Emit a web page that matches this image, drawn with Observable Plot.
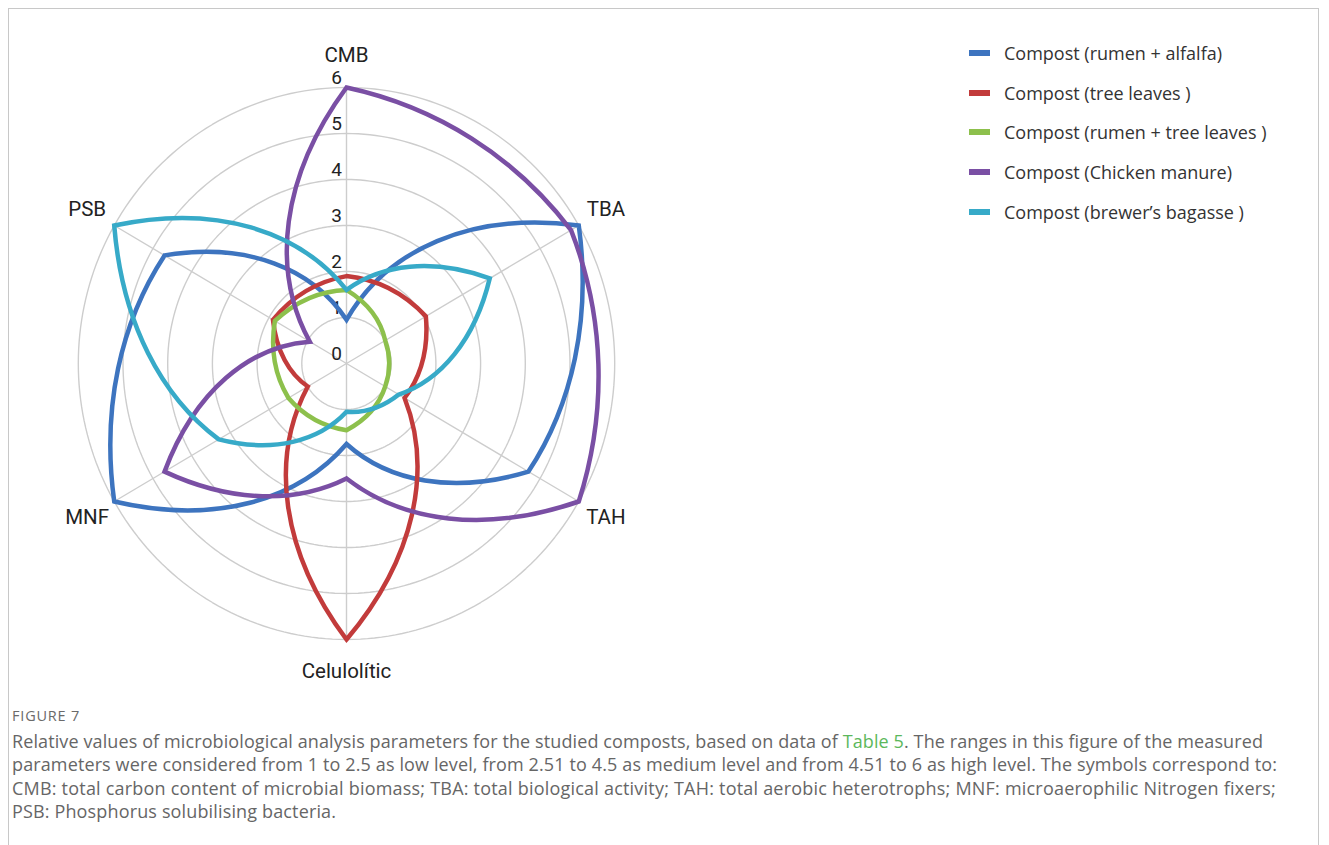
<!DOCTYPE html>
<html>
<head>
<meta charset="utf-8">
<script src="https://cdn.jsdelivr.net/npm/d3@7"></script>
<script src="https://cdn.jsdelivr.net/npm/@observablehq/plot@0.6"></script>
<style>
  html, body { margin: 0; padding: 0; background: #fff; }
  body { width: 1329px; height: 845px; overflow: hidden; position: relative; font-family: "Open Sans", sans-serif; }
  #frame { position: absolute; left: 8px; top: 8px; width: 1311px; height: 900px;
           border-top: 1px solid #c8c8c8; border-left: 1px solid #c8c8c8; border-right: 1px solid #c8c8c8; box-sizing: border-box; }
  #chart { position: absolute; left: 0; top: 0; }
  #legend { position: absolute; left: 969px; top: 33px; }
  .item { display: flex; align-items: center; height: 39.7px; }
  .sw { width: 21px; height: 6px; margin-right: 14px; }
  .lab { font-size: 18px; color: #333; white-space: nowrap; }
  #fig { position: absolute; left: 12px; top: 706px; font-size: 14.5px; color: #6a6a6a; letter-spacing: 0.8px; }
  #cap { position: absolute; left: 12px; top: 730px; font-size: 18px; color: #666; line-height: 23.3px; }
  #cap div { white-space: nowrap; display: block; width: max-content; }
  .link { color: #5cb85c; }
</style>
</head>
<body>
<div id="frame"></div>
<div id="chart"></div>
<div id="legend"></div>
<div id="fig">FIGURE 7</div>
<div id="cap">
  <div>Relative values of microbiological analysis parameters for the studied composts, based on data of <span class="link">Table 5</span>. The ranges in this figure of the measured</div>
  <div>parameters were considered from 1 to 2.5 as low level, from 2.51 to 4.5 as medium level and from 4.51 to 6 as high level. The symbols correspond to:</div>
  <div>CMB: total carbon content of microbial biomass; TBA: total biological activity; TAH: total aerobic heterotrophs; MNF: microaerophilic Nitrogen fixers;</div>
  <div>PSB: Phosphorus solubilising bacteria.</div>
</div>
<script>
// ---------- data ----------
const axes = ["CMB", "TBA", "TAH", "Celulolític", "MNF", "PSB"];
const seriesNames = [
  "Compost (rumen + alfalfa)",
  "Compost (tree leaves )",
  "Compost (rumen + tree leaves )",
  "Compost (Chicken manure)",
  "Compost (brewer’s bagasse )"
];
const rumenAlfalfa     = [0.95, 6.0, 4.7, 1.75, 6.0, 4.7];
const treeLeaves       = [1.9, 2.05, 1.5, 6.0, 1.0, 1.9];
const rumenTreeLeaves  = [1.6, 1.0, 1.0, 1.45, 1.5, 1.85];
const chickenManure    = [6.0, 5.8, 6.0, 2.5, 4.7, 0.95];
const brewersBagasse   = [1.6, 3.7, 1.35, 1.05, 3.3, 6.0];
const seriesValues = [rumenAlfalfa, treeLeaves, rumenTreeLeaves, chickenManure, brewersBagasse];
const colors = ["#3d74bf", "#c23b3b", "#8dc04c", "#7a4fa4", "#37aac8"];
const ticks = [0, 1, 2, 3, 4, 5, 6];

// ---------- layout ----------
const W = 700, H = 690;
const CX = 346, CY = 363, KX = 44.7, KY = 46;
const maxV = 6, labelR = 6.7;
const ang = i => i * 2 * Math.PI / axes.length;

// polar interpolation curve (around chart centre)
function polarCurve(mode) {
  return function (context) {
    let pts;
    return {
      areaStart() {}, areaEnd() {},
      lineStart() { pts = []; },
      point(x, y) { pts.push([+x, +y]); },
      lineEnd() {
        const n = pts.length;
        if (!n) return;
        const P = pts.map(([x, y]) => {
          const u = (x - CX) / KX, v = (CY - y) / KY;
          return [Math.hypot(u, v), Math.atan2(u, v)];
        });
        const toXY = (r, a) => [CX + KX * r * Math.sin(a), CY - KY * r * Math.cos(a)];
        context.moveTo(pts[0][0], pts[0][1]);
        for (let i = 0; i < n; i++) {
          const [r0, a0] = P[i], [r1, a1] = P[(i + 1) % n];
          let da = a1 - a0;
          while (da > Math.PI) da -= 2 * Math.PI;
          while (da < -Math.PI) da += 2 * Math.PI;
          if (mode === "cubic") {
            const c1 = toXY(r0 + (r1 - r0) / 3, a0 + da / 3);
            const c2 = toXY(r0 + 2 * (r1 - r0) / 3, a0 + 2 * da / 3);
            const e = toXY(r1, a0 + da);
            context.bezierCurveTo(c1[0], c1[1], c2[0], c2[1], e[0], e[1]);
          } else {
            const steps = 40;
            for (let s = 1; s <= steps; s++) {
              const t = s / steps;
              const p = toXY(r0 + (r1 - r0) * t, a0 + da * t);
              context.lineTo(p[0], p[1]);
            }
          }
        }
        context.closePath();
      }
    };
  };
}

const rows = seriesNames.flatMap((s, j) =>
  seriesValues[j].map((v, i) => ({ series: s, axis: axes[i], value: v,
    x: v * Math.sin(ang(i)), y: v * Math.cos(ang(i)) })));
const grid = ticks.filter(k => k > 0).flatMap(k =>
  axes.map((a, i) => ({ k, x: k * Math.sin(ang(i)), y: k * Math.cos(ang(i)) })));

const chart = Plot.plot({
  width: W, height: H, margin: 0,
  x: { domain: [-1, 1], range: [CX - KX, CX + KX] },
  y: { domain: [-1, 1], range: [CY + KY, CY - KY] },
  axis: null,
  color: { domain: seriesNames, range: colors },
  style: { background: "transparent", fontFamily: "Roboto" },
  marks: [
    Plot.line(grid, { x: "x", y: "y", z: "k", curve: polarCurve("arc"), stroke: "#cdcdcd", strokeWidth: 1.4 }),
    Plot.link(axes, { x1: () => 0, y1: () => 0,
      x2: (d, i) => maxV * Math.sin(ang(i)), y2: (d, i) => maxV * Math.cos(ang(i)),
      stroke: "#cdcdcd", strokeWidth: 1.4 }),
    Plot.text(ticks, { x: () => 0, y: d => d, text: d => String(d), dx: -10, dy: -10,
      fontSize: 19, fill: "#222" }),
    Plot.text(axes, { x: (d, i) => labelR * Math.sin(ang(i)), y: (d, i) => labelR * Math.cos(ang(i)),
      text: d => d, fontSize: 20.5, fill: "#222" }),
    Plot.line(rows, { x: "x", y: "y", z: "series", stroke: "series", strokeWidth: 4.5,
      curve: polarCurve("cubic"), strokeLinejoin: "miter", strokeMiterlimit: 10 })
  ]
});
document.getElementById("chart").appendChild(chart);

// legend
const legend = document.getElementById("legend");
seriesNames.forEach((s, j) => {
  const it = document.createElement("div");
  it.className = "item";
  it.innerHTML = `<div class="sw" style="background:${colors[j]}"></div><div class="lab"></div>`;
  it.querySelector(".lab").textContent = s;
  legend.appendChild(it);
});

// fit caption lines to the measured line widths
const capLines = Array.from(document.querySelectorAll("#cap div"));
const targets = [1251, 1265, 1264];
const spacings = [];
capLines.slice(0, 3).forEach((el, i) => {
  const w = el.getBoundingClientRect().width;
  const n = el.textContent.length;
  const ls = (targets[i] - w) / n;
  spacings.push(ls);
  el.style.letterSpacing = ls + "px";
});
const meanLs = spacings.reduce((a, b) => a + b, 0) / spacings.length;
capLines[3].style.letterSpacing = meanLs + "px";
</script>
</body>
</html>
